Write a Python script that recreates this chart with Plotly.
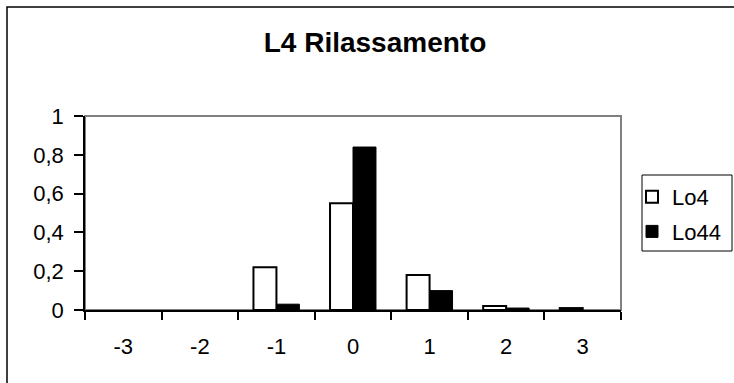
import plotly.graph_objects as go

# Category labels and series values
categories = ["-3", "-2", "-1", "0", "1", "2", "3"]
lo4 = [0, 0, 0.22, 0.55, 0.18, 0.02, 0.01]
lo44 = [0, 0, 0.03, 0.84, 0.10, 0.01, 0]
series_names = ["Lo4", "Lo44"]
title_text = "L4 Rilassamento"

FONT = "Liberation Sans, Arial, sans-serif"
W, H = 734, 383
ML, MR, MT, MB = 85, 113, 116, 73
PW, PH = W - ML - MR, H - MT - MB


def px_x(p):
    return (p - ML) / PW


def px_y(p):
    return (PH + MT - p) / PH


def nonzero(vals):
    # empty bars are left out so their outline is not drawn on the axis
    return [v if v else None for v in vals]


fig = go.Figure()
fig.add_trace(go.Bar(
    x=categories, y=nonzero(lo4), name=series_names[0], legendgroup="a",
    marker=dict(color="white", line=dict(color="black", width=2)),
))
fig.add_trace(go.Bar(
    x=categories, y=nonzero(lo44), name=series_names[1], legendgroup="b",
    marker=dict(color="black", line=dict(color="black", width=1)),
))

# outer frame of the chart (extends past right and bottom edges)
fig.add_shape(type="rect", xref="paper", yref="paper", layer="below",
              x0=px_x(7), x1=1.5, y0=-1.0, y1=px_y(7),
              line=dict(color="black", width=1.5), fillcolor="rgba(0,0,0,0)")
# plot area frame
fig.add_shape(type="rect", xref="paper", yref="paper", layer="below",
              x0=0, x1=1, y0=0, y1=1,
              line=dict(color="#808080", width=2), fillcolor="rgba(0,0,0,0)")
# legend frame
fig.add_shape(type="rect", xref="paper", yref="paper", layer="below",
              x0=px_x(642), x1=px_x(732), y0=px_y(251), y1=px_y(175),
              line=dict(color="black", width=1), fillcolor="white")

fig.update_layout(
    width=W, height=H,
    margin=dict(l=ML, r=MR, t=MT, b=MB, autoexpand=False),
    paper_bgcolor="white", plot_bgcolor="white",
    separators=",.",
    barmode="group", bargap=0.4, bargroupgap=0,
    font=dict(family=FONT, size=22, color="black"),
    title=dict(text=title_text, xref="container", yref="container",
               x=375 / W, y=1 - 42 / H, xanchor="center", yanchor="middle",
               font=dict(family=FONT, size=28, weight="bold", color="black")),
    legend=dict(x=px_x(632), xanchor="left", y=px_y(176), yanchor="top",
                borderwidth=0, bgcolor="rgba(0,0,0,0)",
                tracegroupgap=3, font=dict(family=FONT, size=22)),
    showlegend=True,
)
fig.update_xaxes(
    type="category", tickson="boundaries", ticks="outside", ticklen=8,
    tickwidth=1.5, tickcolor="black", showline=True, linecolor="black",
    linewidth=1.5, showgrid=False, zeroline=False, ticklabelstandoff=16,
)
fig.update_yaxes(
    range=[0, 1], dtick=0.2, tick0=0, ticks="outside", ticklen=9,
    tickwidth=1.5, tickcolor="black", showline=True, linecolor="black",
    linewidth=1.5, showgrid=False, zeroline=False, ticklabelstandoff=6,
)

fig.write_html("out.html")
